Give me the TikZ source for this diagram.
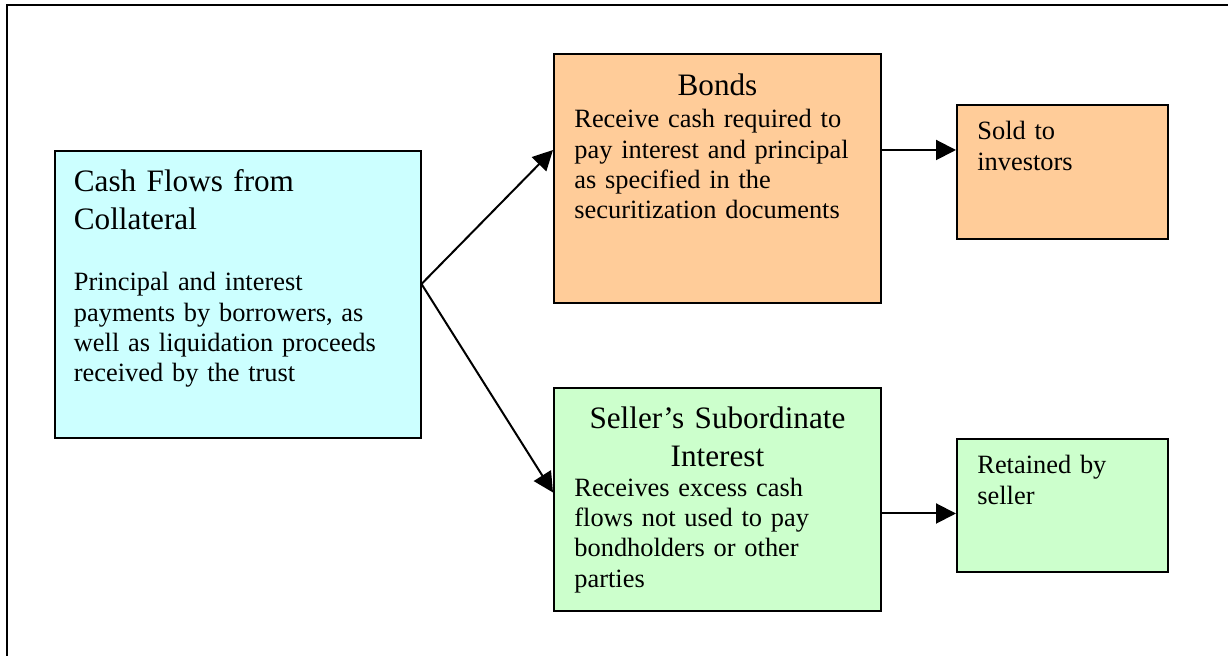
\documentclass[tikz,border=0pt]{standalone}
\usepackage{xcolor}
\usepackage{fontspec}
\setmainfont{Liberation Serif}
\usepackage{tikz}
\usetikzlibrary{arrows.meta,positioning,calc}
\definecolor{cyanbx}{HTML}{CCFFFF}
\definecolor{orangebx}{HTML}{FFCC99}
\definecolor{greenbx}{HTML}{CCFFCC}
\tikzset{
  blk/.style={draw,line width=1pt,inner sep=0pt},
  c1/.style={fill=cyanbx}, c2/.style={fill=orangebx}, c3/.style={fill=greenbx},
  hd/.style={inner sep=0pt,text width=170pt,font=\fontsize{15.6}{19}\selectfont},
  tx/.style={inner sep=0pt,text width=170pt,align=left,anchor=base west,font=\fontsize{13.2}{15.1}\selectfont},
  flow/.style={line width=1pt,-{Triangle[length=10pt,width=10pt]}},
}
\begin{document}
\begin{tikzpicture}[x=0.5pt,y=-0.5pt]
  \useasboundingbox (0,0) rectangle (1228,656);
  \draw[line width=1pt] (6.5,656) -- (6.5,5.5) -- (1228,5.5);
  \node[blk,c1,minimum width=183pt,minimum height=143.5pt] (cash) at (237.5,294.5){};
  \node[blk,c2,minimum width=163.5pt,minimum height=124.5pt] (bonds) at (717.5,178.5){};
  \node[blk,c3,minimum width=163.5pt,minimum height=111.5pt] (seller) at (717.5,500){};
  \node[blk,c2,minimum width=105.5pt,minimum height=67pt] (sold) at (1062.5,172){};
  \node[blk,c3,minimum width=105.5pt,minimum height=66.5pt] (retained) at (1062.5,505.5){};
  \node[hd,align=left,anchor=base west] (cashT) at ([shift={(20,42)}]cash.north west){Cash Flows from\\Collateral};
  \node[tx] (cashB) at ([shift={(20,141)}]cash.north west){Principal and interest\\payments by borrowers, as\\well as liquidation proceeds\\received by the trust};
  \node[hd,align=center,anchor=base] (bondsT) at ([shift={(0,43)}]bonds.north){Bonds};
  \node[tx] (bondsB) at ([shift={(21,75)}]bonds.north west){Receive cash required to\\pay interest and principal\\as specified in the\\securitization documents};
  \node[hd,align=center,anchor=base] (sellerT) at ([shift={(0,41)}]seller.north){Seller’s Subordinate\\Interest};
  \node[tx] (sellerB) at ([shift={(21,109)}]seller.north west){Receives excess cash\\flows not used to pay\\bondholders or other\\parties};
  \node[tx] (soldT) at ([shift={(21,36)}]sold.north west){Sold to\\investors};
  \node[tx] (retainedT) at ([shift={(21,36)}]retained.north west){Retained by\\seller};
  \coordinate (fork) at ($(cash.north east)+(0,134)$);
  \coordinate (b1) at ($(bonds.north west)+(0,97)$);
  \coordinate (s1) at ($(seller.north west)+(0,105)$);
  \coordinate (b2) at ($(bonds.north east)+(0,97)$);
  \coordinate (s2) at ($(seller.north east)+(0,126)$);
  \draw[flow] (fork) -- (b1);
  \draw[flow] (fork) -- (s1);
  \draw[flow] (b2) -- (b2 -| sold.west);
  \draw[flow] (s2) -- (s2 -| retained.west);
\end{tikzpicture}
\end{document}
